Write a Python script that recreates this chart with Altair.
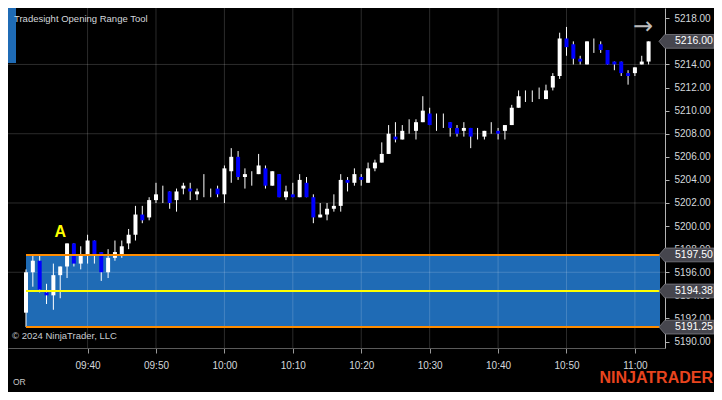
import altair as alt
import pandas as pd

# ---------------- data ----------------
times = pd.date_range("2024-03-28 09:31", periods=92, freq="min")
opens = [5192.5, 5196.0, 5197.0, 5194.25, 5194.0, 5195.75, 5196.5, 5198.5, 5196.75, 5197.5,
         5198.75, 5197.75, 5196.0, 5197.25, 5197.5, 5198.5, 5199.25, 5201.0, 5200.75, 5202.25,
         5203.0, 5203.0, 5202.25, 5203.25, 5203.25, 5202.75, 5203.0, 5202.75, 5203.25, 5202.75,
         5204.75, 5206.0, 5204.25, 5204.0, 5204.5, 5205.0, 5203.5, 5204.5, 5202.5, 5202.75,
         5202.5, 5203.75, 5202.5, 5200.75, 5201.0, 5201.5, 5201.75, 5204.0, 5203.75, 5204.25,
         5203.75, 5205.0, 5205.5, 5206.25, 5207.75, 5207.5, 5208.5, 5208.25, 5209.0, 5209.75,
         5209.0, 5209.25, 5209.0, 5208.5, 5208.25, 5208.5, 5208.0, 5207.75, 5208.5, 5208.25,
         5208.25, 5208.75, 5210.25, 5211.25, 5211.25, 5211.5, 5211.0, 5212.0, 5213.0, 5216.25,
         5215.75, 5214.5, 5214.0, 5215.5, 5215.75, 5215.25, 5214.25, 5214.25, 5213.25, 5213.25,
         5214.0, 5214.25]
highs = [5196.25, 5197.5, 5197.5, 5195.0, 5196.75, 5196.5, 5198.5, 5198.5, 5198.25, 5199.25,
         5198.75, 5197.75, 5198.0, 5198.75, 5198.75, 5199.75, 5201.75, 5201.75, 5202.5, 5203.75,
         5203.5, 5203.0, 5203.25, 5203.75, 5203.75, 5203.25, 5204.5, 5203.25, 5203.5, 5205.25,
         5206.75, 5206.5, 5205.0, 5204.75, 5206.25, 5205.25, 5204.75, 5204.5, 5203.5, 5203.75,
         5204.5, 5204.25, 5202.75, 5202.0, 5202.0, 5202.75, 5204.5, 5204.25, 5205.0, 5204.5,
         5205.5, 5205.75, 5207.25, 5208.75, 5209.0, 5208.75, 5209.25, 5209.25, 5211.25, 5210.25,
         5209.75, 5209.75, 5209.0, 5208.75, 5209.0, 5208.5, 5208.5, 5208.25, 5209.0, 5208.5,
         5208.75, 5210.5, 5211.75, 5211.75, 5211.75, 5212.0, 5212.25, 5213.25, 5216.75, 5217.25,
         5216.0, 5214.75, 5216.0, 5216.25, 5216.0, 5215.25, 5214.25, 5214.25, 5213.5, 5213.75,
         5214.75, 5216.0]
lows = [5191.25, 5194.75, 5194.25, 5193.25, 5192.75, 5193.75, 5195.5, 5196.5, 5196.25, 5196.75,
        5196.75, 5195.25, 5195.5, 5197.0, 5197.25, 5198.0, 5198.75, 5200.25, 5200.5, 5202.0,
        5202.0, 5201.5, 5201.25, 5202.75, 5202.25, 5202.25, 5202.5, 5202.5, 5202.5, 5202.0,
        5203.75, 5204.0, 5203.25, 5203.5, 5204.5, 5203.25, 5203.5, 5202.5, 5202.25, 5202.5,
        5202.5, 5202.5, 5200.25, 5200.75, 5200.5, 5201.25, 5201.25, 5203.0, 5203.5, 5203.5,
        5203.75, 5204.75, 5205.5, 5206.25, 5207.25, 5207.5, 5208.0, 5207.5, 5209.0, 5208.75,
        5208.25, 5208.5, 5207.75, 5207.75, 5207.75, 5206.75, 5207.5, 5207.5, 5208.0, 5207.5,
        5207.5, 5208.75, 5210.25, 5210.75, 5210.75, 5211.0, 5211.0, 5211.75, 5212.75, 5214.75,
        5214.0, 5214.0, 5214.0, 5215.0, 5215.0, 5214.0, 5213.5, 5213.0, 5212.25, 5213.0,
        5214.0, 5214.0]
closes = [5196.0, 5197.0, 5194.5, 5194.0, 5195.75, 5196.5, 5198.5, 5196.75, 5197.5, 5198.75,
          5197.5, 5196.0, 5197.25, 5197.75, 5198.25, 5199.25, 5201.0, 5200.5, 5202.25, 5202.75,
          5203.0, 5202.0, 5203.0, 5203.5, 5203.0, 5203.0, 5203.0, 5202.75, 5202.75, 5205.0,
          5206.0, 5204.25, 5204.5, 5204.0, 5205.25, 5203.5, 5204.75, 5202.5, 5203.0, 5202.5,
          5204.0, 5202.5, 5200.75, 5201.0, 5201.5, 5201.75, 5204.0, 5203.75, 5204.5, 5204.0,
          5205.0, 5205.5, 5206.25, 5208.0, 5207.5, 5208.25, 5208.5, 5209.0, 5210.0, 5208.75,
          5209.0, 5209.25, 5208.5, 5208.0, 5208.5, 5207.75, 5208.0, 5208.25, 5208.5, 5208.0,
          5208.75, 5210.25, 5211.25, 5211.25, 5211.25, 5211.5, 5211.75, 5213.0, 5216.25, 5215.5,
          5214.5, 5214.25, 5216.0, 5215.5, 5215.25, 5214.0, 5214.0, 5213.25, 5213.0, 5213.75,
          5214.25, 5216.0]

x_tick_times = pd.date_range("2024-03-28 09:40", "2024-03-28 11:00", freq="10min")
y_tick_values = [5190, 5192, 5194, 5196, 5198, 5200, 5202, 5204, 5206, 5208, 5210, 5212,
                 5214, 5218]
grid_prices = [5196, 5202, 5208, 5214]

or_high, or_mid, or_low = 5197.50, 5194.38, 5191.25
last_price = 5216.00
or_start = pd.Timestamp("2024-03-28 09:31")
range_end = pd.Timestamp("2024-03-28 11:03:40")
signal_time = pd.Timestamp("2024-03-28 09:36:00")
signal_price = 5199.45

# ---------------- tables ----------------
candles = pd.DataFrame({"t": times, "o": opens, "h": highs, "l": lows, "c": closes})
candles["dir"] = ["down" if c < o else "up" for o, c in zip(opens, closes)]
xgrid = pd.DataFrame({"t": x_tick_times})
ygrid = pd.DataFrame({"p": grid_prices})
box = pd.DataFrame({"t0": [or_start], "t1": [range_end], "hi": [or_high], "lo": [or_low]})
levels = pd.DataFrame({"t0": [or_start] * 3, "t1": [range_end] * 3,
                       "p": [or_high, or_low, or_mid],
                       "col": ["#ff8c00", "#ff8c00", "#ffff00"]})
flags = pd.DataFrame({"p": [last_price, or_high, or_mid, or_low]})
flags["s"] = [f"{v:.2f}" for v in flags["p"]]
sig = pd.DataFrame({"t": [signal_time], "p": [signal_price], "s": ["A"]})

W, H = 657, 340
FONT = "Liberation Sans"

xs = alt.Scale(domain=[alt.DateTime(year=2024, month=3, date=28, hours=9, minutes=29, seconds=6),
                       alt.DateTime(year=2024, month=3, date=28, hours=11, minutes=3, seconds=40)])
ys = alt.Scale(domain=[5189.44, 5218.89], nice=False, zero=False)

x_axis = alt.Axis(values=[alt.DateTime(year=2024, month=3, date=28, hours=t.hour, minutes=t.minute)
                          for t in x_tick_times],
                  format="%H:%M", orient="bottom", grid=False, tickSize=5, labelPadding=7,
                  labelColor="#d4d8dc", tickColor="#9a9a9a", domainColor="#5a5a5a",
                  labelFont=FONT, labelFontSize=10, title=None, labelFlush=False)
y_axis = alt.Axis(values=y_tick_values, format=".2f", orient="right", grid=False, tickSize=4,
                  labelPadding=5, labelColor="#d4d8dc", tickColor="#b4b4b4",
                  domainColor="#b4b4b4", labelFont=FONT, labelFontSize=10, title=None,
                  labelFlush=False, labelOverlap=False)


def X(field):
    return alt.X(field, scale=xs, axis=x_axis)


def Y(field):
    return alt.Y(field, scale=ys, axis=y_axis)


BOX = "#1f6bb5"

box_layer = alt.Chart(box).mark_rect(color=BOX).encode(
    x=X("t0:T"), x2="t1:T", y=Y("hi:Q"), y2="lo:Q")

vgrid = alt.Chart(xgrid).mark_rule(color="#ffffff", opacity=0.17, strokeWidth=1).encode(
    x=X("t:T"))
hgrid = alt.Chart(ygrid).mark_rule(color="#ffffff", opacity=0.17, strokeWidth=1).encode(
    y=Y("p:Q"))

wicks = alt.Chart(candles).mark_rule(color="#ffffff", strokeWidth=1).encode(
    x=X("t:T"), y=Y("l:Q"), y2="h:Q")

bodies = alt.Chart(candles).mark_bar(size=4).encode(
    x=X("t:T"), y=Y("o:Q"), y2="c:Q",
    color=alt.Color("dir:N", scale=alt.Scale(domain=["up", "down"], range=["#ffffff", "#0000ff"]),
                    legend=None))

level_lines = alt.Chart(levels).mark_rule(strokeWidth=2).encode(
    x=X("t0:T"), x2="t1:T", y=Y("p:Q"),
    color=alt.Color("col:N", scale=None))

sig_text = alt.Chart(sig).mark_text(color="#ffff00", font=FONT, fontSize=16, fontWeight="bold",
                                    baseline="middle", align="center").encode(
    x=X("t:T"), y=Y("p:Q"), text="s:N")

FLAG = "M-1,0 L-0.786,-0.25 L1,-0.25 L1,0.25 L-0.786,0.25 Z"
flag_shapes = alt.Chart(flags).mark_point(shape=FLAG, size=3025, filled=True, opacity=1,
                                          fill="#46464e", stroke="#7c7c84", strokeWidth=0.8).encode(
    x=alt.value(678.5), y=Y("p:Q"))
flag_text = alt.Chart(flags).mark_text(align="left", baseline="middle", color="#ffffff",
                                       font=FONT, fontSize=10.5).encode(
    x=alt.value(667), y=Y("p:Q"), text="s:N")


def note(text, x, y, **kw):
    return alt.Chart(pd.DataFrame({"s": [text]})).mark_text(**kw).encode(
        x=alt.value(x), y=alt.value(y), text="s:N")


strip = alt.Chart(pd.DataFrame({"a": [0]})).mark_rect(color="#1f6bb5").encode(
    x=alt.value(0), x2=alt.value(8), y=alt.value(0), y2=alt.value(55))
title = note("Tradesight Opening Range Tool", 6, 10.5, align="left", baseline="middle",
             font=FONT, fontSize=9.5, color="#d4d8dc")
copy = note("\u00a9 2024 NinjaTrader, LLC", 4, 328, align="left", baseline="middle",
            font=FONT, fontSize=9.5, color="#c8ccd0")
orlbl = note("OR", 5, 374, align="left", baseline="middle", font=FONT, fontSize=8.5,
             color="#c8c8c8")
logo = note("NINJATRADER", 705, 370, align="right", baseline="middle", font=FONT,
            fontSize=16, fontWeight="bold", color="#e8441e")
arrow = note("\u2192", 635, 19, align="center", baseline="middle", font="DejaVu Sans",
             fontSize=24, color="#bcbcbc")

chart = alt.layer(
    box_layer, vgrid, hgrid, wicks, bodies, level_lines, sig_text,
    flag_shapes, flag_text, strip, title, copy, orlbl, logo, arrow
).properties(
    width=W, height=H,
    autosize=alt.AutoSizeParams(type="none"),
    padding={"left": 0, "top": 0, "right": 49, "bottom": 44},
    background="#000000",
).configure_view(strokeWidth=0)

chart.save("out.html", embed_options={"renderer": "svg", "actions": False})
